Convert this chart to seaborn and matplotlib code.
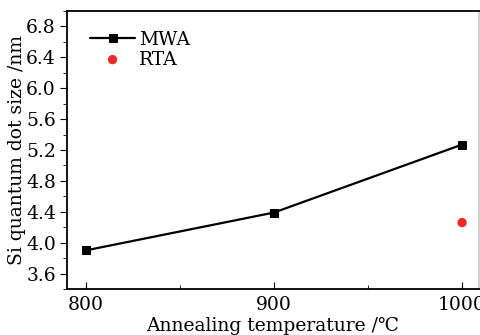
import matplotlib
matplotlib.use("Agg")
import matplotlib.pyplot as plt
import seaborn as sns
import pandas as pd
from matplotlib.ticker import MultipleLocator

temps_mwa = [800, 900, 1000]
size_mwa = [3.90, 4.39, 5.27]
temps_rta = [1000]
size_rta = [4.26]
xticks = [800, 900, 1000]
yticks = [3.6, 4.0, 4.4, 4.8, 5.2, 5.6, 6.0, 6.4, 6.8]

sns.set_style("ticks")
plt.rcParams['font.family'] = ['DejaVu Serif']
plt.rcParams['mathtext.fontset'] = 'dejavuserif'
plt.rcParams['text.color'] = 'black'
plt.rcParams['axes.labelcolor'] = 'black'
plt.rcParams['xtick.color'] = 'black'
plt.rcParams['ytick.color'] = 'black'
plt.rcParams['axes.edgecolor'] = 'black'

fig = plt.figure(figsize=(4.8, 3.35), dpi=100)
ax = fig.add_axes([67/480, 46/335, (479-67)/480, (289-11)/335])

df_m = pd.DataFrame({"t": temps_mwa, "s": size_mwa})
df_r = pd.DataFrame({"t": temps_rta, "s": size_rta})
sns.lineplot(data=df_m, x="t", y="s", ax=ax, color="black", marker="s",
             markersize=5.5, linewidth=1.6, markeredgecolor="black", label="MWA")
sns.scatterplot(data=df_r, x="t", y="s", ax=ax, color="#ee2a24", s=45,
                edgecolor="none", label="RTA")

ax.set_xlim(790, 1009)
ax.set_ylim(3.4, 7.0)
ax.set_xticks(xticks)
ax.set_xticklabels([str(v) for v in xticks])
ax.set_yticks(yticks)
ax.set_yticklabels([f"{v:.1f}" for v in yticks])
ax.xaxis.set_minor_locator(MultipleLocator(50))
ax.yaxis.set_minor_locator(MultipleLocator(0.2))
ax.tick_params(axis="x", which="both", direction="in", labelsize=13.5, pad=5)
ax.tick_params(axis="x", which="major", length=5)
ax.tick_params(axis="x", which="minor", length=3)
ax.tick_params(axis="y", which="both", direction="out", labelsize=13.5, pad=3)
ax.tick_params(axis="y", which="major", length=5)
ax.tick_params(axis="y", which="minor", length=3)
for sp in ax.spines.values():
    sp.set_linewidth(1.3)
    sp.set_visible(True)
ax.spines["right"].set_color("#cccccc")

ax.set_xlabel("Annealing temperature /℃", fontsize=13.5, labelpad=2)
ax.set_ylabel("Si quantum dot size /nm", fontsize=13.5, labelpad=0)

leg = ax.legend(loc="upper left", frameon=False, fontsize=13.5,
                handlelength=2.4, handletextpad=0.2, labelspacing=0.1,
                bbox_to_anchor=(0.015, 0.99))

fig.savefig("out.png", dpi=100)
